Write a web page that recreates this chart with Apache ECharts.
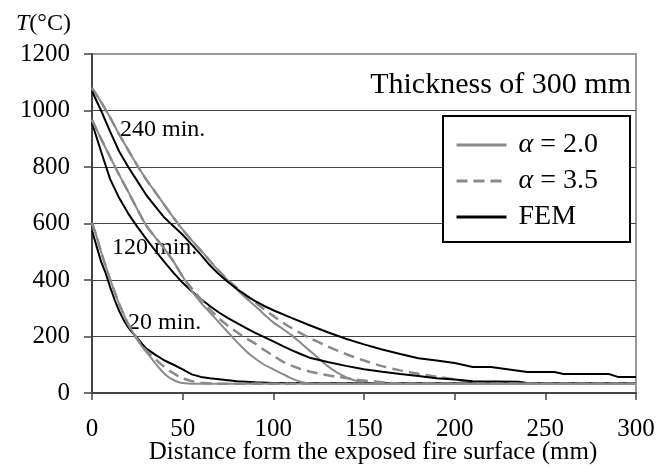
<!DOCTYPE html>
<html>
<head>
<meta charset="utf-8">
<script src="https://cdn.jsdelivr.net/npm/echarts@6/dist/echarts.min.js"></script>
<style>
html,body{margin:0;padding:0;background:#fff;}
#chart{width:670px;height:467px;}
</style>
</head>
<body>
<div id="chart"></div>
<script>
// ---- data (distance in mm, temperature in °C) ----
const xTicks = [0, 50, 100, 150, 200, 250, 300];
const yTicks = [0, 200, 400, 600, 800, 1000, 1200];

const fem240X = [0,5,10,15,20,25,30,35,40,45,50,55,60,65,70,75,80,85,90,95,100,110,120,130,140,150,160,170,180,190,200,210,220,240,255,260,285,290,300];
const fem240Y = [1068,1000,925,855,800,750,700,660,620,590,560,525,490,452,420,393,368,345,325,308,293,266,240,215,192,172,154,138,123,115,106,92,92,74,74,67,67,57,57];

const fem120X = [0,5,10,15,20,25,30,35,40,45,50,55,60,65,70,75,80,85,90,95,100,105,110,115,120,130,140,150,160,170,180,190,200,210,235,240,300];
const fem120Y = [956,855,757,690,635,588,545,503,463,425,390,360,333,308,285,265,247,230,213,198,183,167,152,138,125,110,96,84,75,67,60,52,48,42,40,35,35];

const fem20X = [0,2.5,5,7.5,10,12.5,15,17.5,20,22.5,25,27.5,30,35,40,45,50,55,60,65,70,80,90,100,300];
const fem20Y = [575,520,465,425,375,330,290,258,232,212,195,175,157,135,115,100,84,66,57,52,49,42,38,35,35];

const a2_240X = [0,5,10,15,20,25,30,35,40,45,50,55,60,65,70,75,80,85,90,95,100,105,110,115,120,125,130,135,140,145,150,155,160,300];
const a2_240Y = [1080,1030,975,915,860,805,755,710,665,620,578,540,505,468,432,398,365,335,308,278,250,228,205,178,150,122,95,73,56,44,37,34,33,33];

const a35_240X = [0,5,10,15,20,25,30,35,40,45,50,55,60,65,70,75,80,85,90,95,100,105,110,115,120,125,130,140,150,160,170,180,190,200,210,220,300];
const a35_240Y = [1080,1030,975,915,860,805,755,710,665,620,578,540,505,468,432,400,372,346,321,296,273,250,230,212,195,180,165,138,115,95,80,68,58,48,38,33,33];

const a2_120X = [0,5,10,15,20,25,30,35,40,45,50,55,60,65,70,75,80,85,90,95,100,105,110,115,120,125,300];
const a2_120Y = [967,900,835,772,712,650,592,550,510,465,412,362,320,285,250,215,180,148,122,100,84,68,52,40,34,33,33];

const a35_120X = [0,5,10,15,20,25,30,35,40,45,50,55,60,65,70,75,80,85,90,95,100,105,110,115,120,125,130,135,140,145,150,155,160,165,170,300];
const a35_120Y = [967,900,835,772,712,650,592,550,510,465,412,370,332,296,264,238,215,194,175,152,132,112,97,85,76,69,63,58,53,48,44,41,38,35,33,33];

const a2_20X = [0,2.5,5,7.5,10,12.5,15,17.5,20,22.5,25,27.5,30,32.5,35,37.5,40,42.5,45,47.5,50,55,300];
const a2_20Y = [602,555,500,450,402,358,315,278,243,215,190,165,145,125,105,85,68,55,46,39,35,33,33];

const a35_20X = [0,2.5,5,7.5,10,12.5,15,17.5,20,22.5,25,27.5,30,32.5,35,37.5,40,42.5,45,47.5,50,55,60,65,70,300];
const a35_20Y = [602,555,500,450,402,358,315,278,243,215,190,168,150,135,120,105,92,80,70,60,52,42,36,34,33,33];

const seriesNames = ['α = 2.0', 'α = 3.5', 'FEM'];
const timeLabels = ['240 min.', '120 min.', '20 min.'];
const titleText = 'Thickness of 300 mm';
const xTitle = 'Distance form the exposed fire surface (mm)';

// ---- styles ----
const FONT = '"Liberation Serif", "Times New Roman", serif';
const GRAY = '#8a8a8a';
const styles = {
  'α = 2.0': {color: GRAY, width: 2, type: 'solid'},
  'α = 3.5': {color: GRAY, width: 2.5, type: [11, 6]},
  'FEM': {color: '#000', width: 2, type: 'solid'}
};

function pairs(xs, ys) { return xs.map((x, i) => [x, ys[i]]); }
function mk(name, xs, ys) {
  return {
    name: name, type: 'line', data: pairs(xs, ys), symbol: 'none', showSymbol: false,
    smooth: name === 'FEM' ? false : 0.3,
    lineStyle: styles[name], itemStyle: {color: styles[name].color},
    silent: true, animation: false
  };
}

const series = [
  mk(seriesNames[0], a2_240X, a2_240Y),
  mk(seriesNames[1], a35_240X, a35_240Y),
  mk(seriesNames[2], fem240X, fem240Y),
  mk(seriesNames[2], fem120X, fem120Y),
  mk(seriesNames[2], fem20X, fem20Y),
  mk(seriesNames[0], a2_120X, a2_120Y),
  mk(seriesNames[1], a35_120X, a35_120Y),
  mk(seriesNames[0], a2_20X, a2_20Y),
  mk(seriesNames[1], a35_20X, a35_20Y)
];

const chart = echarts.init(document.getElementById('chart'));
chart.setOption({
  animation: false,
  backgroundColor: '#fff',
  grid: {left: 92, top: 54, right: 34, bottom: 74, show: true, borderColor: '#9a9a9a', borderWidth: 2, backgroundColor: 'transparent'},
  xAxis: {
    type: 'value', min: xTicks[0], max: xTicks[xTicks.length - 1], interval: 50,
    axisLine: {show: true, lineStyle: {color: '#444', width: 2}},
    axisTick: {show: true, inside: false, length: 7, lineStyle: {color: '#444', width: 1.5}},
    axisLabel: {margin: 24, color: '#000', fontFamily: FONT, fontSize: 25, formatter: v => String(v)},
    splitLine: {show: false}
  },
  yAxis: {
    type: 'value', min: yTicks[0], max: yTicks[yTicks.length - 1], interval: 200,
    axisLine: {show: true, lineStyle: {color: '#444', width: 2}},
    axisTick: {show: true, inside: false, length: 8, lineStyle: {color: '#444', width: 1.5}},
    axisLabel: {margin: 22, color: '#000', fontFamily: FONT, fontSize: 25, formatter: v => String(v)},
    splitLine: {show: true, showMaxLine: false, showMinLine: false, lineStyle: {color: '#444', width: 1}}
  },
  legend: {
    data: seriesNames,
    orient: 'vertical', left: 455, top: 130, padding: 0, itemGap: 6,
    itemWidth: 50, itemHeight: 14, z: 6,
    itemStyle: {opacity: 0},
    lineStyle: {width: 3},
    textStyle: {fontFamily: FONT, fontSize: 28, color: '#000', lineHeight: 30, padding: [0, 0, 0, 7],
      rich: {i: {fontFamily: FONT, fontSize: 28, fontStyle: 'italic', lineHeight: 30}}},
    formatter: function (n) { return n.replace('α', '{i|α}'); },
    selectedMode: false
  },
  graphic: [
    {type: 'rect', z: 5, shape: {x: 443, y: 116, width: 187, height: 126}, style: {fill: '#fff', stroke: '#000', lineWidth: 2}},
    {type: 'text', z: 1, x: 631, y: 85, style: {text: titleText, font: '30px ' + FONT, fill: '#000', align: 'right', verticalAlign: 'middle'}},
    {type: 'text', z: 1, x: 120, y: 130, style: {text: timeLabels[0], font: '24px ' + FONT, fill: '#000', verticalAlign: 'middle'}},
    {type: 'text', z: 1, x: 112, y: 248, style: {text: timeLabels[1], font: '24px ' + FONT, fill: '#000', verticalAlign: 'middle'}},
    {type: 'text', z: 1, x: 128, y: 323, style: {text: timeLabels[2], font: '24px ' + FONT, fill: '#000', verticalAlign: 'middle'}},
    {type: 'text', z: 1, x: 373, y: 452, style: {text: xTitle, font: '25px ' + FONT, fill: '#000', align: 'center', verticalAlign: 'middle'}},
    {type: 'text', z: 1, x: 16, y: 24, style: {
      text: '{i|T}(°C)', font: '24px ' + FONT, fill: '#000', verticalAlign: 'middle',
      rich: {i: {fontFamily: FONT, fontSize: 24, fontStyle: 'italic'}}}}
  ],
  series: series
});
</script>
</body>
</html>
